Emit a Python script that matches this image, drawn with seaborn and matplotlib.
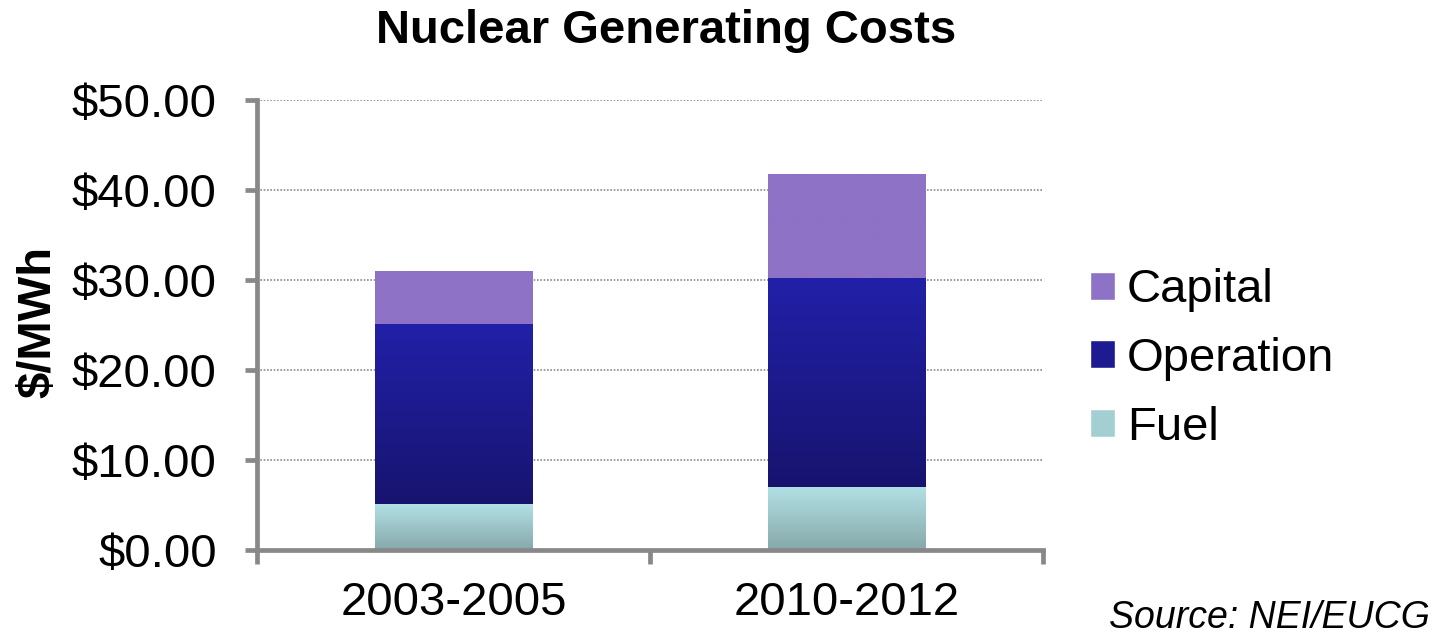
import numpy as np
import pandas as pd
import matplotlib
matplotlib.use("Agg")
import matplotlib.pyplot as plt
from matplotlib.colors import LinearSegmentedColormap
from matplotlib.patches import Patch
from matplotlib.ticker import FixedLocator
import seaborn as sns

# ---- data ----
periods = ["2003-2005", "2010-2012"]
fuel = [5.1, 7.0]
operation = [20.0, 23.2]
capital = [5.9, 11.6]
series_names = ["Capital", "Operation", "Fuel"]
ytick_values = [0, 10, 20, 30, 40, 50]
ytick_labels = ["$0.00", "$10.00", "$20.00", "$30.00", "$40.00", "$50.00"]
title = "Nuclear Generating Costs"
ylabel = "$/MWh"
source = "Source: NEI/EUCG"

# ---- style ----
sns.set_style("white")
plt.rcParams["font.family"] = ["Liberation Sans", "DejaVu Sans"]
plt.rcParams["text.color"] = "black"
plt.rcParams["xtick.labelcolor"] = "black"
plt.rcParams["ytick.labelcolor"] = "black"
GRAY = "#888888"

df = pd.DataFrame({"period": periods, "fuel": fuel,
                   "operation": operation, "capital": capital})
df["lvl1"] = df["fuel"]
df["lvl2"] = df["fuel"] + df["operation"]
df["lvl3"] = df["lvl2"] + df["capital"]

fig = plt.figure(figsize=(14.37, 6.36), dpi=100)
ax = fig.add_axes([257 / 1437, 86 / 636, (1043 - 257) / 1437, 450 / 636])

grad_specs = [
    ("lvl3", "lvl2", ["#8E72C6", "#8E72C6"]),
    ("lvl2", "lvl1", ["#17146F", "#2220A8"]),
    ("lvl1", None, ["#86A8AA", "#B2E0E4"]),
]

for col, lower_col, cols in grad_specs:
    n_before = len(ax.patches)
    sns.barplot(data=df, x="period", y=col, color=cols[1], width=0.4,
                linewidth=0, saturation=1, ax=ax, zorder=3)
    new_patches = ax.patches[n_before:]
    cmap = LinearSegmentedColormap.from_list("g", cols)
    grad = np.linspace(0, 1, 256).reshape(-1, 1)
    for i, p in enumerate(new_patches):
        x0 = p.get_x()
        x1 = x0 + p.get_width()
        top = p.get_y() + p.get_height()
        low = df[lower_col].iloc[i] if lower_col else 0.0
        im = ax.imshow(grad, cmap=cmap, origin="lower", aspect="auto",
                       extent=[x0, x1, low, top], zorder=4,
                       interpolation="bilinear")
        im.set_clip_path(p)

ax.set_xlim(-0.5, 1.5)
ax.set_ylim(0, 50)

# y axis
ax.set_yticks(ytick_values)
ax.set_yticklabels(ytick_labels, fontsize=34, color="black")
# x axis
ax.set_xticks([0, 1])
ax.set_xticklabels(periods, fontsize=34, color="black")
ax.xaxis.set_minor_locator(FixedLocator([-0.5, 0.5, 1.5]))
ax.tick_params(axis="x", which="major", length=0, pad=22)
ax.tick_params(axis="x", which="minor", length=10, width=3.4, color=GRAY,
               bottom=True)
ax.tick_params(axis="y", which="major", length=9, width=3.4, color=GRAY,
               left=True, pad=20)
ax.set_xlabel("")
ax.set_ylabel("")

for side in ["top", "right"]:
    ax.spines[side].set_visible(False)
for side in ["left", "bottom"]:
    ax.spines[side].set_color(GRAY)
    ax.spines[side].set_linewidth(3.4)
    ax.spines[side].set_zorder(5)

ax.yaxis.grid(True, color="#8a8a8a", linestyle=(0, (1, 1)), linewidth=1.2,
              zorder=0)
ax.xaxis.grid(False)
ax.set_axisbelow(True)

# titles
fig.text(666 / 1437, 1 - 31 / 636, title, ha="center", va="center",
         fontsize=34, fontweight="bold", color="black")
fig.text(38 / 1437, 1 - 322 / 636, ylabel, ha="center", va="center",
         rotation=90, fontsize=34, fontweight="bold", color="black")
fig.text(1430 / 1437, 1 - 618 / 636, source, ha="right", va="center",
         fontsize=27, fontstyle="italic", color="black")

# legend
handles = [Patch(facecolor="#8E72C6"), Patch(facecolor="#1E1B92"),
           Patch(facecolor="#A3CFD3")]
leg = fig.legend(handles, series_names, loc="center left",
                 bbox_to_anchor=(1090 / 1437, 1 - 359 / 636), frameon=False,
                 fontsize=34, handlelength=0.53, handleheight=0.53,
                 handletextpad=0.25, labelspacing=0.52, borderpad=0,
                 borderaxespad=0)
for t in leg.get_texts():
    t.set_color("black")

fig.savefig("out.png", dpi=100)
